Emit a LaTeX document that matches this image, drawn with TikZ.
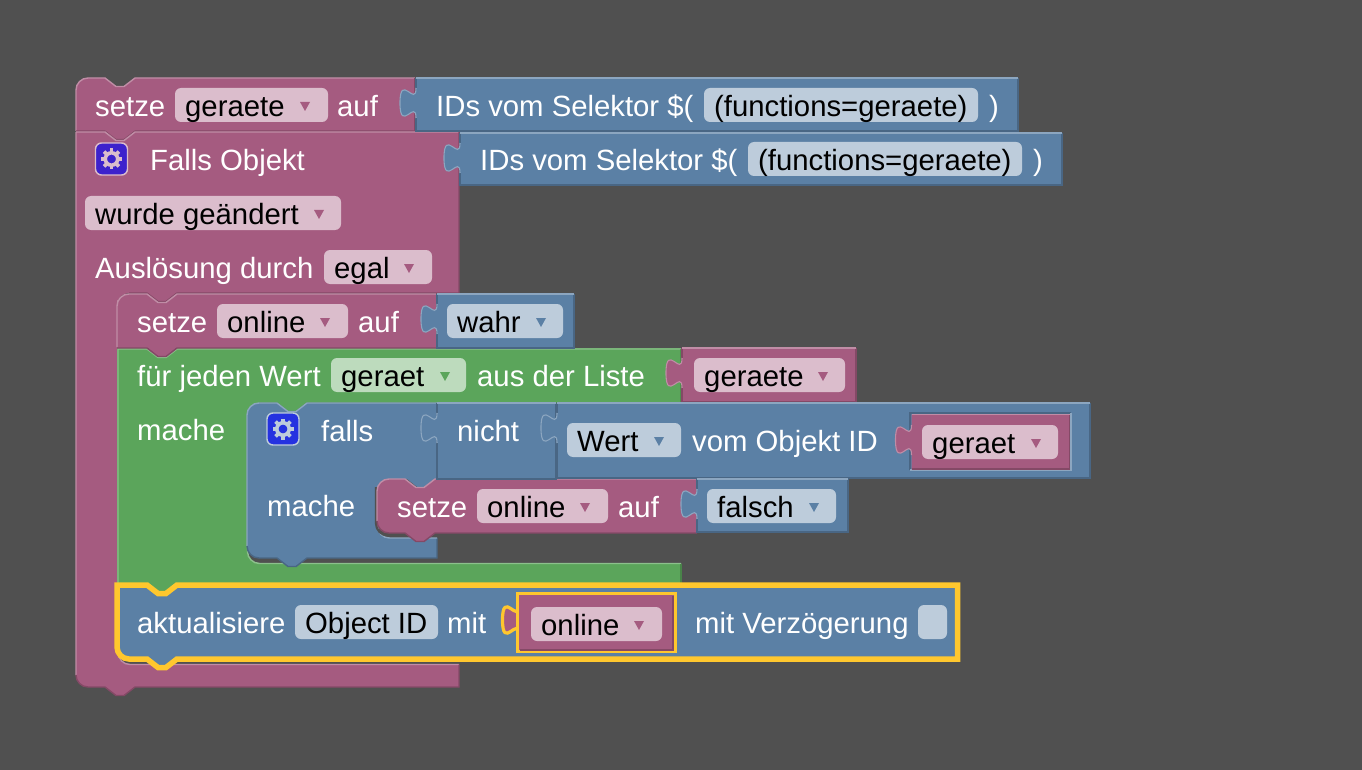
\documentclass[tikz,border=0pt]{standalone}
\usepackage{fontspec}
\setmainfont{Liberation Sans}
\definecolor{bgc}{HTML}{505050}
\definecolor{pk}{HTML}{A55B80}\definecolor{pkL}{HTML}{C08DA6}\definecolor{pkD}{HTML}{844966}\definecolor{pkF}{HTML}{DBBDCC}
\definecolor{bl}{HTML}{5B80A5}\definecolor{blL}{HTML}{8CA6C0}\definecolor{blD}{HTML}{496684}\definecolor{blF}{HTML}{BDCCDB}
\definecolor{gr}{HTML}{5BA55B}\definecolor{grL}{HTML}{8CC08C}\definecolor{grD}{HTML}{498449}\definecolor{grF}{HTML}{BDDBBD}
\definecolor{hl}{HTML}{FFC72E}
\definecolor{iconA}{HTML}{3D22CC}\definecolor{iconB}{HTML}{2532E0}
% path pieces
\newcommand\NT[2]{-- (#1,#2) -- ++(11,8.5) -- ++(8,0) -- ++(11,-8.5)}
\newcommand\NB[2]{-- (#1+30,#2) -- ++(-11,8.5) -- ++(-8,0) -- ++(-11,-8.5)}
\newcommand\TAB[2]{-- (#1,#2) .. controls (#1,#2+20) and (#1-16,#2-16) .. (#1-16,#2+15) .. controls (#1-16,#2+46) and (#1,#2+10) .. (#1,#2+30)}
% rounded corners, given the corner point: (y grows downward)
\newcommand\CTL[2]{-- (#1,#2+12) arc[start angle=180,end angle=270,radius=12]}
\newcommand\CITL[2]{-- (#1+12,#2) arc[start angle=270,end angle=180,radius=12]}
\newcommand\CIBL[2]{-- (#1,#2-12) arc[start angle=180,end angle=90,radius=12]}
\newcommand\CBL[2]{-- (#1+12,#2) arc[start angle=90,end angle=180,radius=12]}
% value block: colour prefix, x, top, right, bottom
\newcommand\VAL[5]{%
  \fill[#1] (#2,#3) \TAB{#2}{#3+10} -- (#2,#5) -- (#4,#5) -- (#4,#3) -- cycle;
  \draw[edgeline,#1D] (#2,#3) -- (#2,#3+10) (#2,#3+40) -- (#2,#5) -- (#4,#5) -- (#4,#3);
  \draw[edgeline,#1L] (#2,#3) -- (#4,#3);
  \draw[line width=1.1,#1L] (#2,#3+10) .. controls (#2,#3+30) and (#2-16,#3-6) .. (#2-16,#3+25) .. controls (#2-16,#3+56) and (#2,#3+20) .. (#2,#3+40);
}
% field: colour prefix,x0,y0,x1,y1,text,triangle x
\newcommand\FLD[7]{%
  \node[fieldbox,fill=#1F,minimum width=#4-#2,minimum height=#5-#3] (f#2x#3) at ({(#2+#4)/2},{(#3+#5)/2}) {};
  \node[blackt] (t#2x#3) at (#2+10,#3+28.5) {#6};
  \fill[#1] (#7-5,#3+14) -- (#7+5,#3+14) -- (#7,#3+23) -- cycle;
}
\newcommand\ICON[3]{%
  \node[iconbox,fill=#1,draw=#2] (icon#3) at (#3) {};
  \begin{scope}[shift={(#3)}]
    \foreach \a in {0,45,...,315}{\draw[#2,line width=3.6,rotate=\a] (0,6) -- (0,10.5);}
    \draw[#2,line width=3.6] (0,0) circle (6.2);
  \end{scope}
}
\tikzset{
  edgeline/.style={line width=1.4},
  whitet/.style={text=white,anchor=base west,inner sep=0pt,yshift=-1.5pt,font=\fontsize{29.3}{32}\selectfont},
  blackt/.style={text=black,anchor=base west,inner sep=0pt,font=\fontsize{29.3}{32}\selectfont},
  fieldbox/.style={rounded corners=6,draw=none,inner sep=0pt,outer sep=0pt},
  iconbox/.style={rounded corners=6,line width=1.4,minimum size=32,inner sep=0pt}
}
\begin{document}
\begin{tikzpicture}[x=1pt,y=-1pt]
\fill[bgc] (0,0) rectangle (1362,770);
\useasboundingbox (0,0) rectangle (1362,770);

% ---- block 1: setze geraete auf
\path[fill=pk] (76,131) \CTL{76}{78} \NT{105}{78} -- (415,78) -- (415,131) \NB{105}{131} -- cycle;
\draw[edgeline,pkL] (76,131) \CTL{76}{78} \NT{105}{78} -- (415,78);
\draw[edgeline,pkD] (415,78) -- (415,131);
\draw[edgeline,pkD] (76,131.2) -- (105,131.2) -- ++(11,8.5) -- ++(8,0) -- ++(11,-8.5) -- (415,131.2);

% ---- block 2: Falls Objekt (C shape)
\path[fill=pk] (76,132) \NT{105}{132} -- (459,132) -- (459,293) \NB{147}{293} \CITL{117}{293} \CIBL{117}{664.5} -- (459,664.5) -- (459,687) \NB{105}{687} \CBL{76}{687} -- cycle;
\draw[edgeline,pkL] (76,675) -- (76,132) (76,132) -- (105,132) -- ++(11,8.5) -- ++(8,0) -- ++(11,-8.5) -- (459,132);
\draw[edgeline,pkD] (459,132) -- (459,293) \NB{147}{293} -- (129,293);
\draw[edgeline,pkL] (118,300) \CIBL{118}{664.5} -- (459,664.5);
\draw[edgeline,pkD] (459,664.5) -- (459,687) \NB{105}{687} \CBL{76}{687};

% ---- block 3: setze online auf
\path[fill=pk] (117,347) \CTL{117}{294} \NT{147}{294} -- (436,294) -- (436,348) -- (117,348) -- cycle;
\draw[edgeline,pkL] (117,347) \CTL{117}{294} \NT{147}{294} -- (436,294);

% ---- green loop
\path[fill=gr] (117,348) \NT{147}{348} -- (681,348) -- (681,403) \NB{277}{403} \CITL{247}{403} \CIBL{247}{563} -- (681,563) -- (681,586) \NB{147}{586} -- (117,586) -- cycle;
\draw[edgeline,grL] (118,584) -- (118,349) -- (147,349) -- ++(11,8.5) -- ++(8,0) -- ++(11,-8.5) -- (681,349);
\draw[edgeline,grD] (681,349) -- (681,403) \NB{277}{403} -- (259,403);
\draw[edgeline,grL] (247.5,545) \CIBL{247.5}{563.5} -- (681,563.5);
\draw[edgeline,grD] (681,564) -- (681,584);
% tab of block 3 over the green notch
\fill[pk] (147,347) -- ++(11,9.5) -- ++(8,0) -- ++(11,-9.5) -- cycle;
\draw[edgeline,pkD] (117,348) -- (147,348) -- ++(11,8.5) -- ++(8,0) -- ++(11,-8.5) -- (436,348);

% ---- falls block
\path[fill=bl] (247,450) \CTL{247}{403} \NT{277}{403} -- (437,403) -- (437,479) \NB{407}{479} \CITL{377}{479} \CIBL{377}{538} -- (437,538) -- (437,558) \NB{277}{558} \CBL{247}{558} -- cycle;
\draw[edgeline,blL] (247,546) \CTL{247}{403} \NT{277}{403} -- (437,403);
\draw[edgeline,blD] (437,538) -- (437,558) \NB{277}{558} \CBL{247}{558};
\draw[edgeline,blD] (437,403) -- (437,479);
\draw[edgeline,blL] (377.5,520) \CIBL{377.5}{538} -- (437,538);

% ---- setze online auf (inner)
\draw[line width=2.2,bgc] (376,487) \CIBL{376}{535.5} -- (436,535.5);
\path[fill=pk] (377,500) \CTL{377}{479} \NT{405}{479} -- (697,479) -- (697,533) \NB{405}{533} \CBL{377}{533} -- cycle;
\draw[edgeline,pkL] (377,521) \CTL{377}{479} \NT{405}{479} -- (697,479);
\draw[edgeline,pkD] (697,533) \NB{405}{533} \CBL{377}{533};

% ---- value blocks
\VAL{bl}{416}{78}{1018}{131}
\VAL{bl}{460}{133}{1062}{185}
\VAL{bl}{437}{294}{574}{348}
\VAL{pk}{682}{348}{856}{402}
\VAL{bl}{437}{403}{556}{479}
\VAL{bl}{557}{403}{1090}{478}
\VAL{bl}{697}{479}{848}{532}
% socket and value geraet
\draw[edgeline,blD] (910,470) -- (910,413) -- (1071,413);
\draw[edgeline,blL] (1071,413) -- (1071,470) -- (910,470);
\fill[pk] (911.5,414.5) \TAB{911.5}{425} -- (911.5,469) -- (1069.5,469) -- (1069.5,414.5) -- cycle;
\draw[edgeline,pkD] (911.5,469) -- (1069.5,469) -- (1069.5,414.5);
\draw[edgeline,pkL] (911.5,414.5) -- (1069.5,414.5);
\draw[line width=1.1,pkL] (911.5,425) .. controls (911.5,445) and (895.5,409) .. (895.5,440) .. controls (895.5,471) and (911.5,435) .. (911.5,455);

% ---- aktualisiere (selected)
\path[fill=bl,draw=hl,line width=5.5] (117,585) \NT{147}{585} -- (957.5,585) -- (957.5,659) \NB{147}{659} \CBL{117}{659} -- cycle;
% online value (selected)
\draw[hl,line width=3.2,fill=pk] (518.5,605) .. controls (518.5,625) and (502.5,589) .. (502.5,620) .. controls (502.5,651) and (518.5,615) .. (518.5,635) -- cycle;
\path[fill=pk] (519,595) -- (519,650) -- (674,650) -- (674,595) -- cycle;
\draw[hl,line width=3] (517.5,593.5) rectangle (675.5,651.5);
\draw[edgeline,pkD] (520,650) -- (673,650) -- (673,595.5);

% ---- icons
\ICON{iconA}{pkF}{111.5,159}
\ICON{iconB}{blF}{283,429}

% ---- texts row by row
\node[whitet] (a1) at (95,115) {setze};
\FLD{pk}{175}{88}{328}{122}{geraete}{305}
\node[whitet] (a2) at (337,115) {auf};
\node[whitet] (a3) at (436,115) {IDs vom Selektor \$(};
\FLD{bl}{704}{88}{978}{122}{(functions=geraete)}{2000}
\node[whitet] (a4) at (989,115) {)};

\node[whitet] (b1) at (150,169) {Falls Objekt};
\node[whitet] (b2) at (480,169) {IDs vom Selektor \$(};
\FLD{bl}{748}{142}{1022}{176}{(functions=geraete)}{2000}
\node[whitet] (b3) at (1033,169) {)};

\FLD{pk}{85}{196}{341}{230}{wurde geändert}{319}
\node[whitet] (c1) at (95,277) {Auslösung durch};
\FLD{pk}{324}{250}{432}{284}{egal}{409}

\node[whitet] (d1) at (137,331) {setze};
\FLD{pk}{217}{304}{348}{338}{online}{325}
\node[whitet] (d2) at (358,331) {auf};
\FLD{bl}{447}{304}{563}{338}{wahr}{541}

\node[whitet] (e1) at (137,385) {für jeden Wert};
\FLD{gr}{331}{358}{466}{392}{geraet}{445}
\node[whitet] (e2) at (477,385) {aus der Liste};
\FLD{pk}{694}{358}{845}{392}{geraete}{823}

\node[whitet] (g1) at (137,439) {mache};
\node[whitet] (g2) at (321,440) {falls};
\node[whitet] (g3) at (457,440) {nicht};
\FLD{bl}{567}{423}{681}{457}{Wert}{659}
\node[whitet] (g4) at (692,450) {vom Objekt ID};
\FLD{pk}{922}{425}{1058}{459}{geraet}{1036}

\node[whitet] (h1) at (267,515) {mache};
\node[whitet] (h2) at (397,516) {setze};
\FLD{pk}{477}{489}{608}{523}{online}{585}
\node[whitet] (h3) at (618,516) {auf};
\FLD{bl}{707}{489}{836}{523}{falsch}{814}

\node[whitet] (i1) at (137,632) {aktualisiere};
\FLD{bl}{295}{605}{438}{639}{Object ID}{2000}
\node[whitet] (i2) at (447,632) {mit};
\FLD{pk}{531}{607}{662}{641}{online}{639}
\node[whitet] (i3) at (695,632) {mit Verzögerung};
\node[fieldbox,fill=blF,minimum width=29,minimum height=34] (i4) at (932.5,622) {};
\end{tikzpicture}
\end{document}
